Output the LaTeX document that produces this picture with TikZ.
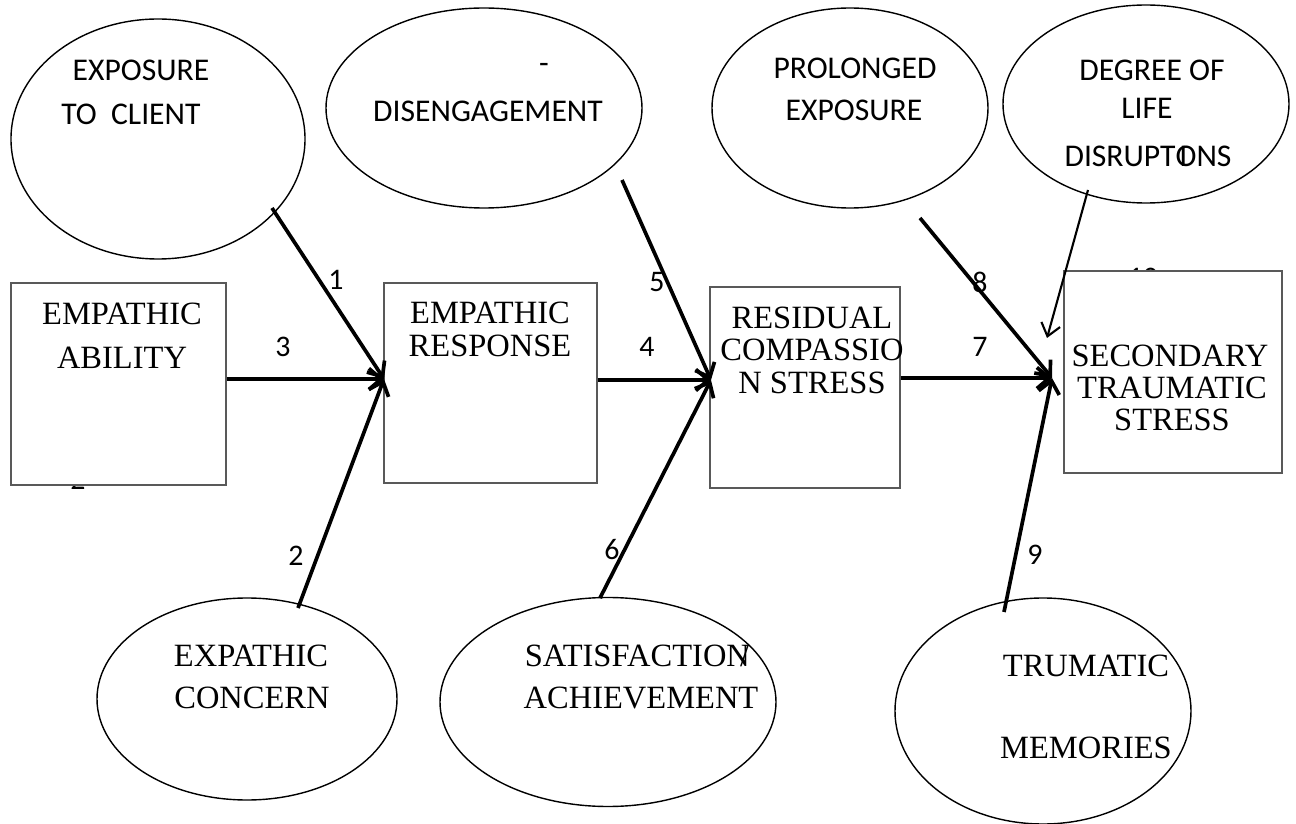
\documentclass[tikz,border=0pt]{standalone}
\usepackage{fontspec}
\setmainfont{Liberation Serif}
\newfontfamily\calibrifont{Carlito}
\usetikzlibrary{shapes.geometric,arrows.meta}
\begin{document}
\begin{tikzpicture}[x=0.02cm,y=-0.02cm,
  oval/.style={draw,ellipse,line width=0.8pt,inner sep=0pt},
  box/.style={draw=black!65,fill=white,line width=0.8pt,inner sep=0pt},
  tt/.style={inner sep=0pt,font=\fontsize{18.5}{20}\selectfont},
  ct/.style={inner sep=0pt,font=\calibrifont\fontsize{18}{20}\selectfont},
  num/.style={inner sep=0pt,font=\calibrifont\fontsize{17}{19}\selectfont},
  arr/.style={line width=2.1pt,-{Straight Barb[length=7pt,width=12pt]}},
  thinarr/.style={line width=1.2pt,-{Straight Barb[length=7pt,width=11pt]}}]
\useasboundingbox (0,0) rectangle (1296,824);

% ellipses
\node[oval,minimum width=294*0.02cm,minimum height=240*0.02cm] (e1) at (158,139) {};
\node[oval,minimum width=316*0.02cm,minimum height=200*0.02cm] (e2) at (484,108) {};
\node[oval,minimum width=276*0.02cm,minimum height=200*0.02cm] (e3) at (850,108) {};
\node[oval,minimum width=286*0.02cm,minimum height=198*0.02cm] (e4) at (1146,104) {};
\node[oval,minimum width=300*0.02cm,minimum height=202*0.02cm] (e5) at (247,699) {};
\node[oval,minimum width=336*0.02cm,minimum height=209*0.02cm] (e6) at (608,702) {};
\node[oval,minimum width=296*0.02cm,minimum height=226*0.02cm] (e7) at (1043,711) {};

% ellipse texts
\node[ct] (e1a) at (141,70) {EXPOSURE};
\node[ct] (e1b) at (131,114) {TO\ \ CLIENT};
\node[ct] (e2a) at (544,68) {-};
\node[ct] (e2b) at (488,111) {DISENGAGEMENT};
\node[ct] (e3a) at (855,68) {PROLONGED};
\node[ct] (e3b) at (854,110) {EXPOSURE};
\node[ct] (e4a) at (1152,70) {DEGREE OF};
\node[ct] (e4b) at (1147,108) {LIFE};
\node[ct] (e4c) at (1148,156) {DISRUPT\rlap{\kern0.12em I}ONS};
\node[tt] (e5a) at (251,656) {EXPATHIC};
\node[tt] (e5b) at (252,698) {CONCERN};
\node[tt] (e6a) at (637,656) {SATISFACTIO\rlap{N}\kern0.42em/};
\node[tt] (e6b) at (641,698) {ACHIEVEMENT};
\node[tt] (e7a) at (1086,666) {TRUMATIC};
\node[tt] (e7b) at (1086,748) {MEMORIES};

% numbers partly hidden by boxes
\node[num] (h2) at (78,480) {2};
\node[num] (h10) at (1143,278) {10};

% boxes
\node[box,minimum width=215*0.02cm,minimum height=202*0.02cm] (ab) at (118.5,384) {};
\node[box,minimum width=213*0.02cm,minimum height=200*0.02cm] (er) at (490.5,383) {};
\node[box,minimum width=190*0.02cm,minimum height=201*0.02cm] (rcs) at (805,387.5) {};
\node[box,minimum width=218*0.02cm,minimum height=202*0.02cm] (stb) at (1173,372) {};

% box texts
\node[tt] (ab1) at (122,314) {EMPATHIC};
\node[tt] (ab2) at (122,358) {ABILITY};
\node[tt] (er1) at (490,313) {EMPATHIC};
\node[tt] (er2) at (490,346) {RESPONSE};
\node[tt] (rc1) at (812,318) {RESIDUAL};
\node[tt] (rc2) at (812,350) {COMPASSIO};
\node[tt] (rc3) at (812,383) {N STRESS};
\node[tt] (st1) at (1170,356) {SECONDARY};
\node[tt] (st2) at (1172,388) {TRAUMATIC};
\node[tt] (st3) at (1172,420) {STRESS};

% junctions and tails
\coordinate (j1) at (384,379);
\coordinate (j2) at (711,380);
\coordinate (j3) at (1052,378);
\coordinate (t1) at (272,208);
\coordinate (t2) at (298,608);
\coordinate (t5) at (622,180);
\coordinate (t6) at (600,598);
\coordinate (t8) at (920,218);
\coordinate (t9) at (1004,612);
\coordinate (t10) at (1088,190);
\coordinate (h10e) at (1047,338);

% arrows
\draw[arr] (t1) -- (j1);
\draw[arr] (t2) -- (j1);
\draw[arr] (ab.east |- j1) -- (j1);
\draw[arr] (er.east |- j2) -- (j2);
\draw[arr] (t5) -- (j2);
\draw[arr] (t6) -- (j2);
\draw[arr] (rcs.east |- j3) -- (j3);
\draw[arr] (t8) -- (j3);
\draw[arr] (t9) -- (j3);
\draw[thinarr] (t10) -- (h10e);

% labels
\node[num] (n1) at (336,280) {1};
\node[num] (n2) at (296,556) {2};
\node[num] (n3) at (283,347) {3};
\node[num] (n4) at (647,347) {4};
\node[num] (n5) at (657,282) {5};
\node[num] (n6) at (612,550) {6};
\node[num] (n7) at (980,347) {7};
\node[num] (n8) at (980,282) {8};
\node[num] (n9) at (1035,555) {9};
\end{tikzpicture}
\end{document}
